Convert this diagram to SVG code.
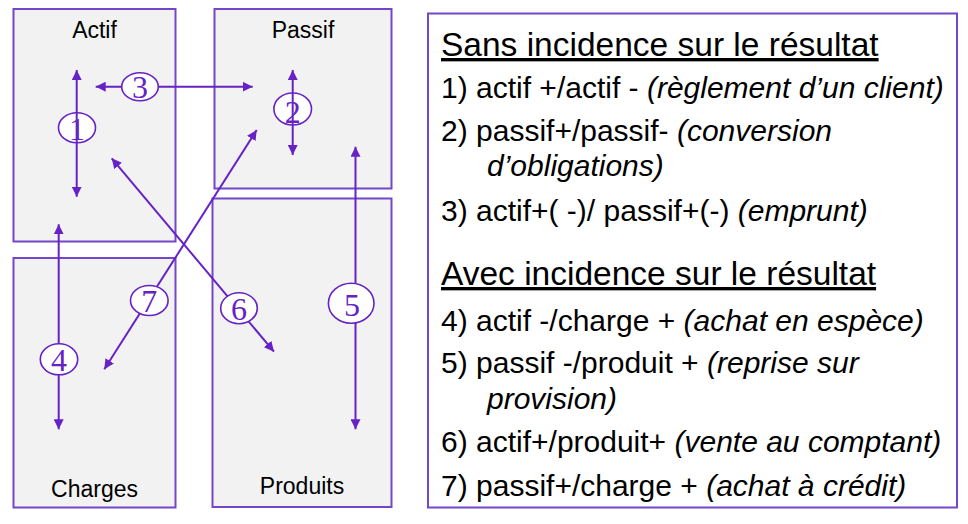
<svg xmlns="http://www.w3.org/2000/svg" width="968" height="524" viewBox="0 0 968 524">
<defs>
<style>
.box{fill:#f2f2f2;stroke:#7446c9;stroke-width:2}
.lbl{font-family:"Liberation Sans",Arial,sans-serif;font-size:23px;fill:#000;text-anchor:middle}
.conn{stroke:#6622c4;stroke-width:2;fill:none;marker-start:url(#ah);marker-end:url(#ah)}
.oval{fill:#fff;stroke:#6622c4;stroke-width:1.6}
.num{font-family:"Liberation Serif","Times New Roman",serif;font-size:32px;fill:#6622c4;text-anchor:middle}
.panel{fill:#fff;stroke:#7446c9;stroke-width:2}
.hd{font-family:"Liberation Sans",Arial,sans-serif;font-size:33.5px;fill:#000;text-decoration:underline}
.it{font-family:"Liberation Sans",Arial,sans-serif;font-size:30px;fill:#000}
.i{font-style:italic}
</style>
<marker id="ah" viewBox="0 0 10 10" refX="10" refY="5" markerWidth="10" markerHeight="10" markerUnits="userSpaceOnUse" orient="auto-start-reverse">
<path d="M0,0 L10,5 L0,10 z" fill="#6622c4"/>
</marker>
</defs>

<g id="actif"><rect class="box" x="13.5" y="9" width="162" height="232.5"/><text class="lbl" x="94.5" y="37.5">Actif</text></g>
<g id="passif"><rect class="box" x="214.5" y="9" width="177" height="179.5"/><text class="lbl" x="303" y="37.5">Passif</text></g>
<g id="charges"><rect class="box" x="13.5" y="258" width="162" height="249.5"/><text class="lbl" x="94.5" y="496.5">Charges</text></g>
<g id="produits"><rect class="box" x="212.5" y="198.5" width="179" height="308.5"/><text class="lbl" x="302" y="494">Produits</text></g>

<g id="labels-under">
<ellipse class="oval" cx="77" cy="127.7" rx="18.5" ry="15"/>
<ellipse class="oval" cx="292.7" cy="109" rx="18.8" ry="16"/>
</g>

<g id="connectors">
<line class="conn" x1="76.7" y1="70" x2="76.7" y2="196.7"/>
<line class="conn" x1="292.7" y1="70" x2="292.7" y2="155"/>
<line class="conn" x1="95.7" y1="86.7" x2="252.7" y2="86.7"/>
<line class="conn" x1="58.7" y1="224.3" x2="58.7" y2="429.3"/>
<line class="conn" x1="355.5" y1="146.7" x2="355.5" y2="429.3"/>
<line class="conn" x1="111.7" y1="158.3" x2="274" y2="351.7"/>
<line class="conn" x1="256.7" y1="130" x2="104.3" y2="369.3"/>
</g>

<g id="labels">
<ellipse class="oval" cx="140" cy="86.7" rx="18.3" ry="14"/>
<ellipse class="oval" cx="59" cy="359.3" rx="18.7" ry="15.5"/>
<ellipse class="oval" cx="351.2" cy="303.3" rx="22.8" ry="20"/>
<ellipse class="oval" cx="239" cy="308.2" rx="18.3" ry="15.5"/>
<ellipse class="oval" cx="149.3" cy="300.5" rx="18.8" ry="15"/>
<text class="num" x="77" y="140">1</text>
<text class="num" x="292.8" y="123">2</text>
<text class="num" x="140" y="98">3</text>
<text class="num" x="59" y="371">4</text>
<text class="num" x="352" y="315.5">5</text>
<text class="num" x="239" y="320">6</text>
<text class="num" x="149.3" y="312">7</text>
</g>

<g id="legend">
<rect class="panel" x="428" y="13.5" width="529" height="494"/>
<text class="hd" x="441" y="56">Sans incidence sur le résultat</text>
<text class="it" x="441" y="98">1) actif +/actif - <tspan class="i">(règlement d’un client)</tspan></text>
<text class="it" x="441" y="141">2) passif+/passif- <tspan class="i">(conversion</tspan></text>
<text class="it i" x="487" y="176">d’obligations)</text>
<text class="it" x="441" y="221">3) actif+( -)/ passif+(-) <tspan class="i">(emprunt)</tspan></text>
<text class="hd" x="441" y="285">Avec incidence sur le résultat</text>
<text class="it" x="441" y="331">4) actif -/charge + <tspan class="i">(achat en espèce)</tspan></text>
<text class="it" x="441" y="373">5) passif -/produit + <tspan class="i">(reprise sur</tspan></text>
<text class="it i" x="487" y="409">provision)</text>
<text class="it" x="441" y="452">6) actif+/produit+ <tspan class="i">(vente au comptant)</tspan></text>
<text class="it" x="441" y="496">7) passif+/charge + <tspan class="i">(achat à crédit)</tspan></text>
</g>
</svg>
